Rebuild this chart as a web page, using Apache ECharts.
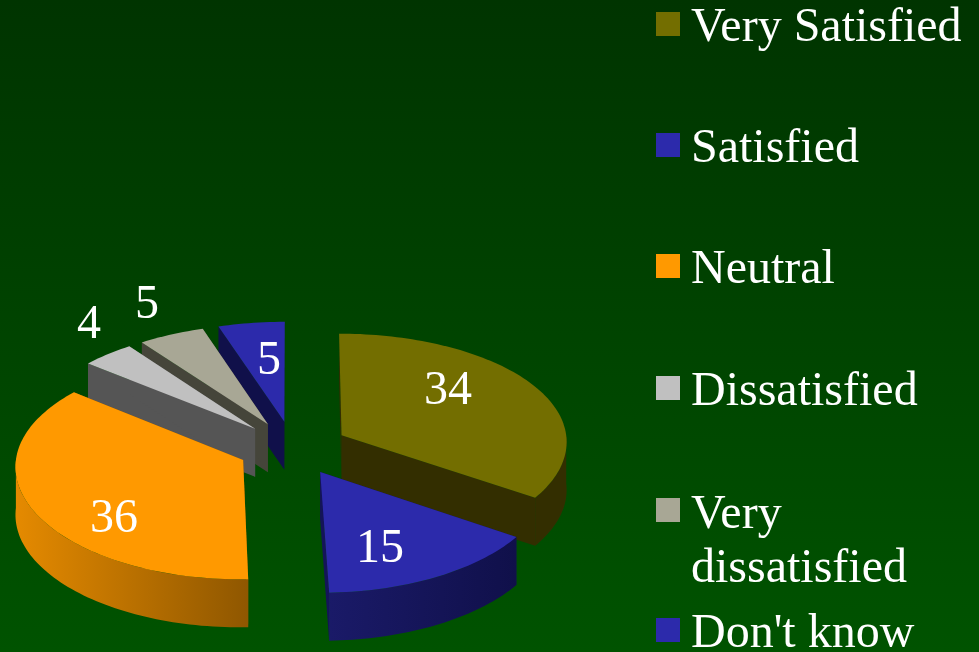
<!DOCTYPE html>
<html><head><meta charset="utf-8">
<style>html,body{margin:0;padding:0;background:#004400}#c{width:979px;height:652px}</style>
<script src="https://cdn.jsdelivr.net/npm/echarts@6/dist/echarts.min.js"></script>
</head><body><div id="c"></div>
<script>
const categories = ['Very Satisfied','Satisfied','Neutral','Dissatisfied','Very dissatisfied',"Don't know"];
const values = [34,15,36,4,5,5];
const topColors = ['#736e00','#2c2aab','#ff9900','#c0c0c0','#a8a795','#2c2aab'];
const faceColors = ['#332e00','#141459','#8f5700','#555555','#45453a','#10104a'];
const wallStops = [['#332e00','#332e00'],['#1a1a68','#10104a'],['#e58a00','#8f5700'],['#555555','#555555'],['#45453a','#45453a'],['#10104a','#10104a']];
const drawOrder = [5,4,3,0,2,1];
const labelAnchors = [[448,391],[380,549],[114,519],[89,325],[147,305],[269,361]];
const legendIconCentres = [24,145,266,388,509,630];

const CX=293, CY=448, RX=226, RY=110.5, KX=0.05, KY=0.065, EXPLODE=0.245, DEPTH=48;
const total = values.reduce((a,b)=>a+b,0);
const proj = (u,v,d)=>[CX+RX*u*(1-KX*v), CY-RY*v*(1-KY*v)+(d||0)];

function sliceShapes(i,val){
  const before = values.slice(0,i).reduce((a,b)=>a+b,0);
  const a0 = before/total*Math.PI*2, a1 = (before+val)/total*Math.PI*2, m=(a0+a1)/2;
  const ou=EXPLODE*Math.sin(m), ov=EXPLODE*Math.cos(m);
  const P=(a,d)=>proj(ou+Math.sin(a),ov+Math.cos(a),d);
  const apex=proj(ou,ov), apexD=proj(ou,ov,DEPTH);
  const arc=[]; const N=Math.max(8,Math.ceil((a1-a0)*40));
  for(let k=0;k<=N;k++) arc.push(P(a0+(a1-a0)*k/N));
  const children=[];
  const poly=(pts,fill)=>children.push({type:'polygon',shape:{points:pts},style:{fill:fill,stroke:null},silent:true});
  poly([apex,P(a0),P(a0,DEPTH),apexD],faceColors[i]);
  poly([apex,P(a1),P(a1,DEPTH),apexD],faceColors[i]);
  const w0=Math.max(a0,Math.PI/2), w1=Math.min(a1,Math.PI*1.5);
  if(w1>w0){
    const wt=[],wb=[];
    const W=Math.ceil((w1-w0)*40);
    for(let k=0;k<=W;k++){const a=w0+(w1-w0)*k/W; wt.push(P(a)); wb.unshift(P(a,DEPTH));}
    const s=wallStops[i];
    poly(wt.concat(wb), new echarts.graphic.LinearGradient(0,0,1,0,[{offset:0,color:s[0]},{offset:1,color:s[1]}]));
  }
  poly([apex].concat(arc),topColors[i]);
  children.push({type:'text',z2:50,silent:true,style:{text:String(val),x:labelAnchors[i][0],y:labelAnchors[i][1],
    fill:'#ffffff',font:'48px "Liberation Serif"',align:'center',verticalAlign:'middle'}});
  return children;
}

const series = drawOrder.map(i=>({
  type:'custom', name:categories[i], coordinateSystem:'none', silent:true,
  itemStyle:{color:topColors[i]}, data:[[values[i]]],
  renderItem:(params,api)=>({type:'group',children:sliceShapes(i,api.value(0))})
}));

const richBase = {color:'#ffffff',fontFamily:'Liberation Serif',fontSize:48,lineHeight:54};
const legend = categories.map((name,i)=>{
  const two = name==='Very dissatisfied';
  return {
    show:true, data:[name], left:656, top:legendIconCentres[i]-(two?82:28), orient:'vertical',
    padding:0, itemWidth:24, itemHeight:24, icon:'rect', selectedMode:false,
    formatter: two ? ()=>'{one|Very}\n{one|dissatisfied}' : (n)=>'{single|'+n+'}',
    textStyle:{color:'#ffffff',fontFamily:'Liberation Serif',fontSize:48,lineHeight:54,
      rich:{
        single:Object.assign({padding:[8,0,0,6]},richBase),
        one:Object.assign({padding:[64,0,0,6]},richBase)
      }}
  };
});

const chart = echarts.init(document.getElementById('c'),null,{renderer:'canvas'});
chart.setOption({
  animation:false,
  backgroundColor:{type:'linear',x:0,y:0,x2:0,y2:1,colorStops:[{offset:0,color:'#003400'},{offset:1,color:'#005300'}]},
  tooltip:{show:false},
  legend:legend,
  series:series
});
</script></body></html>
